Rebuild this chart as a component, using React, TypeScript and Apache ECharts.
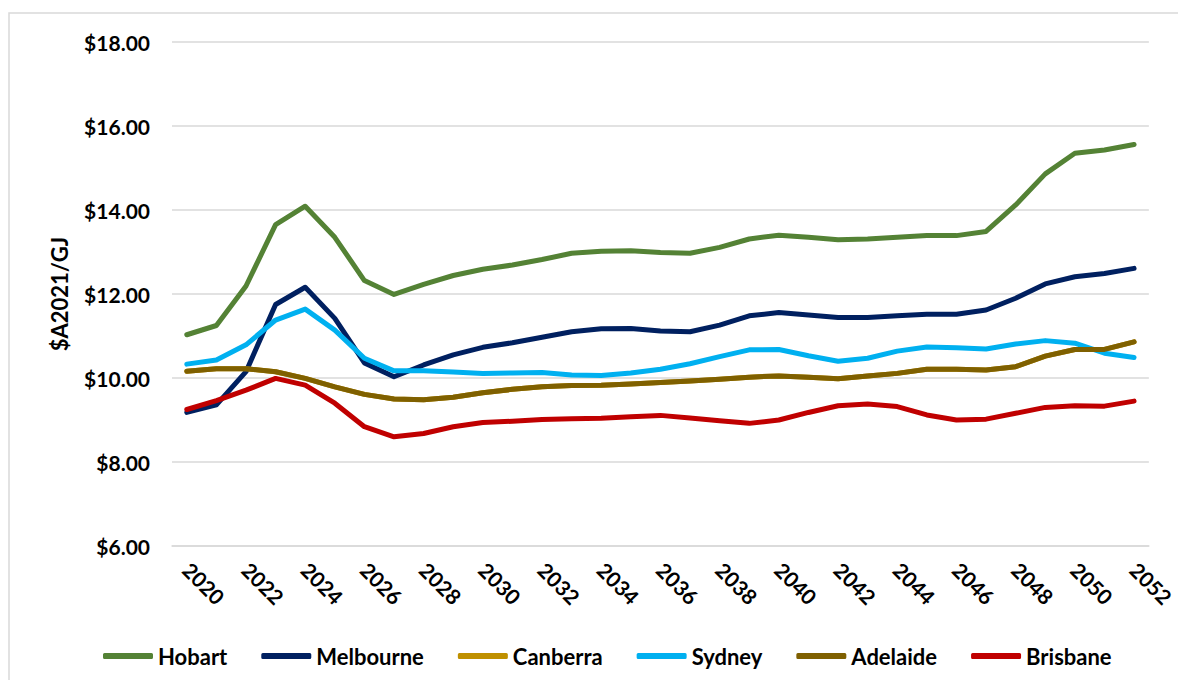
import React, { useEffect, useRef } from "react";
import * as echarts from "echarts";

// Gas price projections by city, $A2021 per GJ
const years = [
  "2020", "2021", "2022", "2023", "2024", "2025", "2026", "2027", "2028", "2029", "2030",
  "2031", "2032", "2033", "2034", "2035", "2036", "2037", "2038", "2039", "2040", "2041",
  "2042", "2043", "2044", "2045", "2046", "2047", "2048", "2049", "2050", "2051", "2052",
];

const hobart = [
  11.03, 11.25, 12.19, 13.65, 14.09, 13.35, 12.32, 11.99, 12.23, 12.44, 12.59,
  12.69, 12.82, 12.97, 13.02, 13.03, 12.99, 12.97, 13.11, 13.31, 13.4, 13.35,
  13.29, 13.31, 13.35, 13.39, 13.39, 13.49, 14.12, 14.86, 15.35, 15.43, 15.56,
];

const melbourne = [
  9.18, 9.36, 10.15, 11.75, 12.16, 11.42, 10.36, 10.03, 10.31, 10.55, 10.73,
  10.84, 10.97, 11.1, 11.17, 11.18, 11.12, 11.1, 11.26, 11.48, 11.56, 11.5,
  11.44, 11.44, 11.48, 11.52, 11.52, 11.62, 11.9, 12.24, 12.41, 12.49, 12.61,
];

const canberra = [
  10.16, 10.22, 10.22, 10.15, 9.99, 9.79, 9.61, 9.5, 9.48, 9.54, 9.65,
  9.73, 9.79, 9.82, 9.83, 9.86, 9.89, 9.93, 9.97, 10.02, 10.05, 10.02,
  9.98, 10.05, 10.11, 10.21, 10.21, 10.19, 10.27, 10.52, 10.68, 10.68, 10.86,
];

const sydney = [
  10.33, 10.43, 10.79, 11.38, 11.64, 11.14, 10.47, 10.17, 10.17, 10.14, 10.11,
  10.12, 10.13, 10.07, 10.06, 10.12, 10.21, 10.34, 10.51, 10.67, 10.68, 10.53,
  10.4, 10.47, 10.64, 10.74, 10.72, 10.69, 10.81, 10.89, 10.83, 10.59, 10.49,
];

const adelaide = [
  10.16, 10.22, 10.22, 10.15, 9.99, 9.79, 9.61, 9.5, 9.48, 9.54, 9.65,
  9.73, 9.79, 9.82, 9.83, 9.86, 9.89, 9.93, 9.97, 10.02, 10.05, 10.02,
  9.98, 10.05, 10.11, 10.21, 10.21, 10.19, 10.27, 10.52, 10.68, 10.68, 10.86,
];

const brisbane = [
  9.25, 9.46, 9.71, 9.99, 9.83, 9.4, 8.84, 8.6, 8.68, 8.84, 8.94,
  8.97, 9.01, 9.03, 9.04, 9.08, 9.11, 9.05, 8.98, 8.92, 9.0, 9.18,
  9.34, 9.38, 9.32, 9.12, 9.0, 9.02, 9.16, 9.3, 9.34, 9.33, 9.45,
];

const cities = [
  { name: "Hobart", data: hobart, color: "#548235" },
  { name: "Melbourne", data: melbourne, color: "#002060" },
  { name: "Canberra", data: canberra, color: "#BF9000" },
  { name: "Sydney", data: sydney, color: "#00B0F0" },
  { name: "Adelaide", data: adelaide, color: "#7F6000" },
  { name: "Brisbane", data: brisbane, color: "#C00000" },
];

const FONT = "Lato, 'Open Sans', sans-serif";

export default function App() {
  const ref = useRef<HTMLDivElement>(null);

  useEffect(() => {
    if (!ref.current) return;
    const chart = echarts.init(ref.current, null, { renderer: "svg" });
    chart.setOption({
      animation: false,
      backgroundColor: "#ffffff",
      textStyle: { fontFamily: FONT },
      graphic: [
        {
          type: "rect",
          shape: { x: 1, y: 5, width: 1200, height: 700 },
          style: { fill: "none", stroke: "#d9d9d9", lineWidth: 1.5 },
          silent: true,
        },
      ],
      grid: { left: 164, right: 25, top: 34, bottom: 134, containLabel: false },
      legend: {
        data: cities.map((c) => c.name),
        left: 95,
        top: 637,
        padding: 0,
        icon: "roundRect",
        itemWidth: 50,
        itemHeight: 6,
        itemGap: 34,
        textStyle: { fontFamily: FONT, fontSize: 22, fontWeight: "bold", color: "#000" },
      },
      xAxis: {
        type: "category",
        data: years,
        boundaryGap: true,
        axisLine: { show: true, lineStyle: { color: "#d9d9d9", width: 1.5 } },
        axisTick: { show: false },
        axisLabel: {
          interval: 1,
          rotate: -45,
          margin: 20,
          fontFamily: FONT,
          fontSize: 21,
          fontWeight: "bold",
          color: "#000",
        },
      },
      yAxis: {
        type: "value",
        min: 6,
        max: 18,
        interval: 2,
        name: "$A2021/GJ",
        nameLocation: "middle",
        nameGap: 102,
        nameTextStyle: { fontFamily: FONT, fontSize: 22, fontWeight: "bold", color: "#000" },
        axisLine: { show: false },
        axisTick: { show: false },
        splitLine: { lineStyle: { color: "#d9d9d9", width: 1.5 } },
        axisLabel: {
          margin: 22,
          fontFamily: FONT,
          fontSize: 21,
          fontWeight: "bold",
          color: "#000",
          formatter: (v: number) => "$" + v.toFixed(2),
        },
      },
      series: cities.map((c) => ({
        name: c.name,
        type: "line",
        data: c.data,
        color: c.color,
        showSymbol: false,
        symbol: "none",
        lineStyle: { width: 5, color: c.color, cap: "round", join: "round" },
      })),
    });
    return () => chart.dispose();
  }, []);

  return <div ref={ref} style={{ width: 1170, height: 672 }} />;
}
